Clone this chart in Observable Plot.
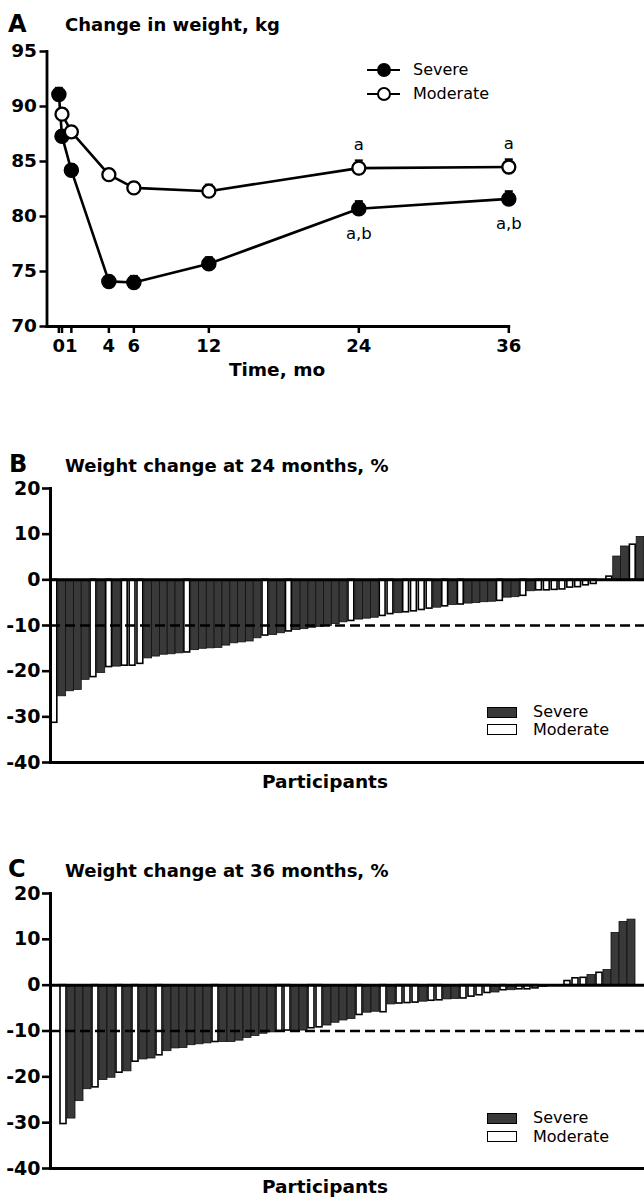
<!DOCTYPE html>
<html>
<head>
<meta charset="utf-8">
<script src="https://cdn.jsdelivr.net/npm/d3@7"></script>
<script src="https://cdn.jsdelivr.net/npm/@observablehq/plot@0.6"></script>
<style>
  html,body{margin:0;padding:0;background:#fff;}
  #root{position:relative;width:644px;height:1199px;overflow:hidden;font-family:"DejaVu Sans",sans-serif;color:#000;}
  #root svg{position:absolute;left:0;}
  .abs{position:absolute;white-space:nowrap;line-height:1;}
  .letter{font-weight:bold;font-size:24px;}
  .title{font-weight:bold;font-size:18px;}
  .xlabel{font-weight:bold;font-size:18.5px;transform:translateX(-50%);}
  .leg{font-size:16px;}
  .sw{position:absolute;width:30px;height:11px;box-sizing:border-box;border:1.5px solid #000;}
  .lline{position:absolute;height:2.5px;background:#000;}
  .ldot{position:absolute;width:14px;height:14px;border-radius:50%;box-sizing:border-box;border:2px solid #000;}
</style>
</head>
<body>
<div id="root"></div>
<script>
// ---------- Panel A data ----------
const timeTicks = [0, 0.25, 1, 4, 6, 12, 24, 36];
const timeTickLabels = ["0", "", "1", "4", "6", "12", "24", "36"];
const weightTicks = [70, 75, 80, 85, 90, 95];
const monthsSevere = [0, 0.25, 1, 4, 6, 12, 24, 36];
const weightSevere = [91.1, 87.3, 84.2, 74.1, 74.0, 75.7, 80.7, 81.6];
const semSevere = [0.6, 0.5, 0.5, 0.5, 0.6, 0.6, 0.7, 0.7];
const monthsModerate = [0.25, 1, 4, 6, 12, 24, 36];
const weightModerate = [89.3, 87.7, 83.8, 82.6, 82.3, 84.4, 84.5];
const semModerate = [0.5, 0.5, 0.5, 0.5, 0.6, 0.7, 0.7];
const annotModerateMonths = [24, 36];
const annotModerateText = ["a", "a"];
const annotSevereMonths = [24, 36];
const annotSevereText = ["a,b", "a,b"];

// ---------- Panel B data (24 months, % change) ----------
const changeTicks = [-40, -30, -20, -10, 0, 10, 20];
const groups24 = ["M","S","S","S","S","M","S","M","S","M","M","M","S","S","S","S","S","M","S","S",
  "S","S","S","S","S","S","S","M","S","S","M","S","S","S","S","S","S","S","M","S",
  "S","S","M","M","S","M","M","M","M","S","M","S","M","S","S","S","S","M","S","S",
  "M","S","M","M","M","M","M","M","M","M","M","M","S","S","M","S"];
const change24 = [-31.3,-25.5,-24.4,-24.1,-21.9,-21.3,-20.4,-19.1,-19.0,-18.8,-18.8,-18.4,-17.2,-16.8,-16.4,-16.3,-16.1,-15.9,-15.4,-15.1,
  -15.0,-14.9,-14.4,-13.9,-13.7,-13.5,-12.8,-12.2,-12.1,-11.7,-11.3,-11.0,-10.8,-10.5,-10.3,-10.1,-9.7,-9.3,-9.0,-8.7,
  -8.5,-8.3,-7.9,-7.5,-7.3,-7.1,-6.9,-6.6,-6.3,-6.1,-5.8,-5.5,-5.4,-5.2,-5.1,-4.9,-4.8,-4.6,-3.9,-3.8,
  -3.5,-2.5,-2.3,-2.3,-2.2,-2.1,-1.7,-1.6,-1.2,-0.9,0,0.7,5.1,7.3,7.7,9.4];

// ---------- Panel C data (36 months, % change) ----------
const groups36 = ["M","S","S","S","M","S","S","M","S","M","S","S","M","S","S","S","S","S","S","M",
  "S","S","S","S","S","S","S","M","M","S","S","M","M","S","S","S","S","M","S","S",
  "M","S","M","M","M","S","M","M","S","S","M","M","M","M","S","M","S","M","M","M",
  "S","S","S","M","M","M","S","M","S","S","S","S"];
const change36 = [-30.3,-29.1,-25.3,-22.7,-22.3,-20.7,-20.2,-19.1,-18.8,-16.7,-16.2,-16.0,-15.3,-14.4,-13.8,-13.7,-13.1,-12.9,-12.7,-12.4,
  -12.4,-12.4,-12.1,-11.5,-11.1,-10.6,-10.3,-10.0,-9.9,-10.0,-9.9,-9.4,-9.2,-8.8,-8.2,-7.7,-7.4,-6.5,-6.0,-5.8,
  -5.9,-4.2,-4.0,-3.9,-3.8,-3.6,-3.4,-3.3,-3.1,-3.0,-2.9,-2.5,-2.2,-1.7,-1.6,-1.1,-1.1,-0.9,-0.9,-0.7,
  -0.4,0,0,0.9,1.5,1.6,2.2,2.7,3.3,11.4,13.8,14.3];
const thresholdLine = [-10];
const zeroLine = [0];

const groupNames = {S: "Severe", M: "Moderate"};
const severeFill = "#393939";

// ---------- helpers ----------
const root = document.getElementById("root");
function addText(cls, text, left, baseline, size, extra) {
  const d = document.createElement("div");
  d.className = "abs " + cls;
  d.textContent = text;
  d.style.left = left + "px";
  d.style.top = (baseline - 0.846 * size) + "px";
  if (extra) Object.assign(d.style, extra);
  root.appendChild(d);
  return d;
}
function place(svg, top) { svg.style.top = top + "px"; root.appendChild(svg); }
const baseStyle = {fontFamily: "DejaVu Sans", fontSize: "18px", fontWeight: "bold", color: "#000", background: "transparent", overflow: "visible"};
const capSymbol = {draw(ctx, size) { const r = Math.sqrt(size / Math.PI); ctx.moveTo(-r, 0); ctx.lineTo(r, 0); }};

// ---------- Panel A ----------
const sev = monthsSevere.map((m, i) => ({m, w: weightSevere[i], e: semSevere[i]}));
const mod = monthsModerate.map((m, i) => ({m, w: weightModerate[i], e: semModerate[i]}));
const annMod = mod.filter(d => annotModerateMonths.includes(d.m)).map((d, i) => ({...d, t: annotModerateText[i]}));
const annSev = sev.filter(d => annotSevereMonths.includes(d.m)).map((d, i) => ({...d, t: annotSevereText[i]}));
const labelOf = new Map(timeTicks.map((t, i) => [t, timeTickLabels[i]]));

const chartA = Plot.plot({
  width: 644, height: 380,
  marginLeft: 46.5, marginRight: 135.7, marginTop: 51, marginBottom: 54,
  x: {domain: [-0.95, 36]},
  y: {domain: [70, 95]},
  style: baseStyle,
  marks: [
    Plot.axisY({ticks: weightTicks, tickSize: 7, tickPadding: 3, strokeWidth: 2.5, fontSize: 18.5, fontWeight: "bold", label: null, tickFormat: d => String(d)}),
    Plot.axisX({ticks: timeTicks, tickSize: 7, tickPadding: 6, strokeWidth: 2.5, fontSize: 18, fontWeight: "bold", label: null, tickFormat: d => labelOf.get(d)}),
    Plot.frame({anchor: "left", strokeWidth: 2.8}),
    Plot.frame({anchor: "bottom", strokeWidth: 2.8}),
    Plot.line(sev, {x: "m", y: "w", stroke: "#000", strokeWidth: 2.6}),
    Plot.line(mod, {x: "m", y: "w", stroke: "#000", strokeWidth: 2.6}),
    Plot.ruleX(sev, {x: "m", y1: d => d.w - d.e, y2: d => d.w + d.e, stroke: "#000", strokeWidth: 2}),
    Plot.dot(sev, {x: "m", y: d => d.w + d.e, symbol: capSymbol, r: 4, stroke: "#000", strokeWidth: 2, fill: "none"}),
    Plot.ruleX(mod, {x: "m", y1: d => d.w - d.e, y2: d => d.w + d.e, stroke: "#000", strokeWidth: 2}),
    Plot.dot(mod, {x: "m", y: d => d.w + d.e, symbol: capSymbol, r: 4, stroke: "#000", strokeWidth: 2, fill: "none"}),
    Plot.dot(sev, {x: "m", y: "w", r: 7, fill: "#000", stroke: "#000"}),
    Plot.dot(mod, {x: "m", y: "w", r: 6.5, fill: "#fff", stroke: "#000", strokeWidth: 2.3}),
    Plot.text(annMod, {x: "m", y: "w", text: "t", dy: -23, fontSize: 16.5, fontWeight: "normal"}),
    Plot.text(annSev, {x: "m", y: "w", text: "t", dy: 25, fontSize: 16.5, fontWeight: "normal"})
  ]
});
place(chartA, 0);
addText("letter", "A", 8, 32, 24);
addText("title", "Change in weight, kg", 65, 31, 18);
addText("xlabel", "Time, mo", 277, 377, 18.5);

// legend A
function legendLineRow(y, filled, label) {
  const l = document.createElement("div"); l.className = "lline";
  l.style.left = "367px"; l.style.width = "33px"; l.style.top = (y - 1.25) + "px"; root.appendChild(l);
  const c = document.createElement("div"); c.className = "ldot";
  c.style.left = (383.5 - 7) + "px"; c.style.top = (y - 7) + "px";
  c.style.background = filled ? "#000" : "#fff"; root.appendChild(c);
  addText("leg", label, 413, y + 5.8, 16);
}
legendLineRow(70, true, groupNames.S);
legendLineRow(94, false, groupNames.M);

// ---------- Panels B & C ----------
function barPanel(values, groups, height, mt, mb) {
  const data = values.map((v, i) => ({i, v, g: groups[i]}));
  return Plot.plot({
    width: 644, height,
    marginLeft: 50, marginRight: 0, marginTop: mt, marginBottom: mb,
    x: {type: "band", domain: d3.range(values.length), padding: 0, axis: null},
    y: {domain: [-40, 20]},
    style: baseStyle,
    marks: [
      Plot.barY(data.filter(d => d.g === "S"), {x: "i", y: "v", fill: severeFill, stroke: "#111", strokeWidth: 0.8}),
      Plot.barY(data.filter(d => d.g === "M"), {x: "i", y: "v", fill: "#fff", stroke: "#000", strokeWidth: 1.6, insetLeft: 1, insetRight: 1}),
      Plot.ruleY(thresholdLine, {stroke: "#000", strokeWidth: 2.6, strokeDasharray: "10,5"}),
      Plot.ruleY(zeroLine, {stroke: "#000", strokeWidth: 3}),
      Plot.frame({anchor: "left", strokeWidth: 3}),
      Plot.frame({anchor: "bottom", strokeWidth: 3}),
      Plot.axisY({ticks: changeTicks, tickSize: 8, tickPadding: 2, strokeWidth: 2.6, fontSize: 19, fontWeight: "bold", label: null, tickFormat: d => String(d)})
    ]
  });
}
function barLegend(ySev, yMod) {
  const s1 = document.createElement("div"); s1.className = "sw";
  s1.style.left = "487px"; s1.style.top = (ySev - 5.5) + "px"; s1.style.background = severeFill; root.appendChild(s1);
  const s2 = document.createElement("div"); s2.className = "sw";
  s2.style.left = "487px"; s2.style.top = (yMod - 5.5) + "px"; s2.style.background = "#fff"; root.appendChild(s2);
  addText("leg", groupNames.S, 533, ySev + 5.8, 16);
  addText("leg", groupNames.M, 533, yMod + 5.8, 16);
}

const chartB = barPanel(change24, groups24, 340, 48, 18);
place(chartB, 440);
addText("letter", "B", 9, 472, 24);
addText("title", "Weight change at 24 months, %", 65, 472, 18);
addText("xlabel", "Participants", 325, 789, 18.5);
barLegend(712, 729.5);

const chartC = barPanel(change36, groups36, 330, 43, 12);
place(chartC, 850);
addText("letter", "C", 8, 877, 24);
addText("title", "Weight change at 36 months, %", 65, 877, 18);
addText("xlabel", "Participants", 325, 1194, 18.5);
barLegend(1118, 1136.5);
</script>
</body>
</html>
